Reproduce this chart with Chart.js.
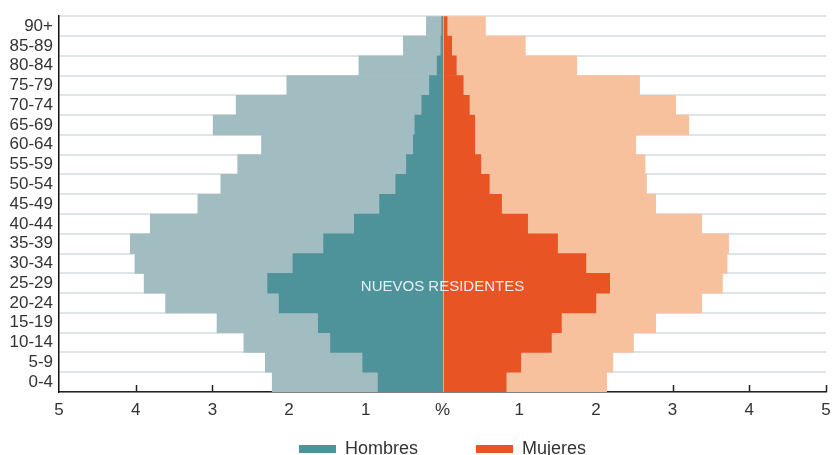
<!DOCTYPE html>
<html>
<head>
<meta charset="utf-8">
<script src="https://cdn.jsdelivr.net/npm/chart.js@4"></script>
<style>
html,body{margin:0;padding:0;background:#fff;overflow:hidden;width:832px;height:455px;}
</style>
</head>
<body>
<canvas id="c" width="832" height="455"></canvas>
<script>
const ageGroups = ['90+','85-89','80-84','75-79','70-74','65-69','60-64','55-59','50-54','45-49','40-44','35-39','30-34','25-29','20-24','15-19','10-14','5-9','0-4'];
const totalMen   = [0.21,0.51,1.09,2.03,2.69,2.99,2.36,2.67,2.89,3.19,3.81,4.07,4.01,3.89,3.61,2.94,2.59,2.31,2.22];
const totalWomen = [0.56,1.08,1.75,2.57,3.04,3.21,2.52,2.64,2.66,2.78,3.38,3.73,3.71,3.65,3.38,2.78,2.49,2.22,2.14];
const newMen     = [0.01,0.02,0.07,0.17,0.27,0.36,0.38,0.47,0.61,0.82,1.15,1.55,1.95,2.28,2.13,1.62,1.46,1.04,0.84];
const newWomen   = [0.06,0.12,0.18,0.27,0.35,0.42,0.42,0.50,0.61,0.77,1.11,1.50,1.87,2.18,2.00,1.55,1.42,1.02,0.83];
const xTickValues = [-5,-4,-3,-2,-1,0,1,2,3,4,5];
const centerLabel = 'NUEVOS RESIDENTES';
const centerRow = '25-29';

const FONT = "'Liberation Sans', Arial, sans-serif";
const LEGEND_GAP = 58;

const innerTicks = {
  id: 'innerTicks',
  afterLayout(chart) {
    // place the legend row below the x-axis labels, centred on the plot area
    const lg = chart.legend;
    lg.top = chart.chartArea.bottom + 48 - LEGEND_GAP;
    lg.bottom = chart.height;
    lg.height = lg.bottom - lg.top;
    lg.left = chart.chartArea.left;
    lg.right = chart.chartArea.right;
    lg.width = lg.right - lg.left;
  },
  beforeDatasetsDraw(chart) {
    const ctx = chart.ctx, xs = chart.scales.x, area = chart.chartArea;
    ctx.save();
    ctx.strokeStyle = '#222';
    ctx.lineWidth = 1.5;
    xTickValues.forEach(v => {
      if (v === -5) return;
      const px = Math.round(xs.getPixelForValue(v)) + 0.5;
      ctx.beginPath();
      ctx.moveTo(px, area.bottom);
      ctx.lineTo(px, area.bottom - 7);
      ctx.stroke();
    });
    ctx.restore();
  },
  afterDatasetsDraw(chart) {
    const ctx = chart.ctx, xs = chart.scales.x, ys = chart.scales.y, area = chart.chartArea;
    const cx = xs.getPixelForValue(0);
    ctx.save();
    ctx.strokeStyle = 'rgba(190,190,190,0.9)';
    ctx.lineWidth = 1;
    ctx.beginPath();
    ctx.moveTo(Math.round(cx) + 0.5, area.top);
    ctx.lineTo(Math.round(cx) + 0.5, area.bottom);
    ctx.stroke();
    ctx.fillStyle = '#e3f0f0';
    ctx.font = '15px ' + FONT;
    ctx.textAlign = 'center';
    ctx.textBaseline = 'middle';
    ctx.fillText(centerLabel, cx, ys.getPixelForValue(ageGroups.indexOf(centerRow)) + 4);
    ctx.restore();
  }
};

const common = {grouped: false, barPercentage: 1, categoryPercentage: 1, borderWidth: 0, borderSkipped: false};

new Chart(document.getElementById('c'), {
  type: 'bar',
  data: {
    labels: ageGroups,
    datasets: [
      Object.assign({label: 'Hombres', data: newMen.map(v => -v), backgroundColor: '#4f939a', order: 0}, common),
      Object.assign({label: 'Mujeres', data: newWomen, backgroundColor: '#e95424', order: 0}, common),
      Object.assign({label: 'Hombres total', data: totalMen.map(v => -v), backgroundColor: '#a2bdc1', order: 1}, common),
      Object.assign({label: 'Mujeres total', data: totalWomen, backgroundColor: '#f8c19e', order: 1}, common)
    ]
  },
  options: {
    indexAxis: 'y',
    responsive: false,
    animation: false,
    layout: {padding: {top: 12, right: 0, left: 0, bottom: 0}},
    scales: {
      x: {
        min: -5, max: 5,
        afterBuildTicks(scale) { scale.ticks = xTickValues.map(v => ({value: v})); },
        afterFit(scale) { scale.height = 33; scale.paddingRight = 6; scale.paddingLeft = 0; },
        grid: {display: false, drawTicks: false},
        border: {display: true, color: '#222', width: 1.5},
        ticks: {
          padding: 8,
          color: '#333',
          autoSkip: false,
          maxRotation: 0,
          font: {family: FONT, size: 17},
          callback: v => v === 0 ? '%' : Math.abs(v)
        }
      },
      y: {
        afterFit(scale) { scale.width = 59; },
        grid: {display: true, drawTicks: false, color: '#dfe5e6', lineWidth: 2, offset: true},
        border: {display: true, color: '#111', width: 1.5},
        ticks: {
          padding: 6,
          color: '#333',
          autoSkip: false,
          font: {family: FONT, size: 17}
        }
      }
    },
    plugins: {
      tooltip: {enabled: false},
      legend: {
        position: 'bottom',
        maxHeight: 30,
        labels: {
          filter: item => item.datasetIndex < 2,
          boxWidth: 37,
          boxHeight: 8,
          padding: LEGEND_GAP,
          color: '#333',
          font: {family: FONT, size: 18}
        }
      }
    }
  },
  plugins: [innerTicks]
});
</script>
</body>
</html>
